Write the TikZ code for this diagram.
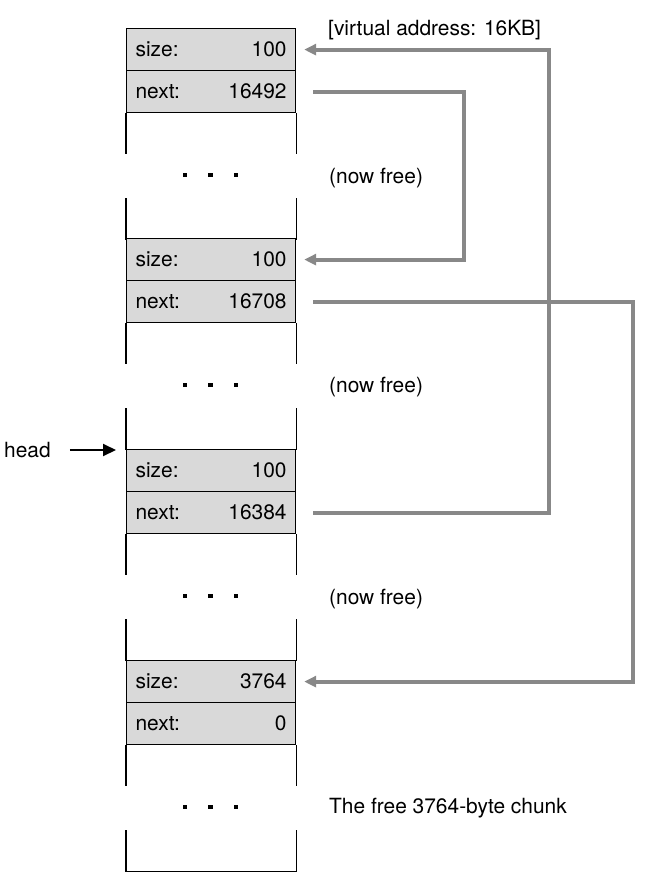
\documentclass[tikz,border=0pt]{standalone}
\usepackage{fontspec}
\setmainfont{TeX Gyre Heros}
\usetikzlibrary{arrows.meta,calc}
\definecolor{rowfill}{HTML}{D9D9D9}
\definecolor{ptrgray}{HTML}{888888}
\begin{document}
\begin{tikzpicture}[x=1bp,y=-1bp,
  every node/.style={font=\fontsize{21}{25}\selectfont},
  row/.style={draw=black, line width=1.2bp, fill=rowfill, minimum width=169bp, minimum height=42bp, text width=151bp, inner xsep=9bp, inner ysep=0pt, anchor=north west},
  side/.style={line width=1.2bp, draw=black},
  ptr/.style={draw=ptrgray, line width=4bp, -{Triangle[length=12bp,width=11bp]}},
  headptr/.style={draw=black, line width=2bp, -{Triangle[length=13bp,width=12bp]}},
  lbl/.style={anchor=west, inner sep=0pt},
  dotbox/.style={fill=black, minimum size=4.5bp, inner sep=0pt}
]
\useasboundingbox (0,0) rectangle (660,885);
\foreach \i/\T/\sv/\nv in {1/28/100/16492, 2/238/100/16708, 3/449/100/16384, 4/660/3764/0}{
  \node[row] (s\i) at (126,\T) {size:\hfill \sv};
  \node[row] (n\i) at (126,\T+42) {next:\hfill \nv};
  \draw[side] (n\i.south west) -- ++(0,41);
  \draw[side] (n\i.south east) -- ++(0,41);
  \draw[side] ($(n\i.south west)+(0,85)$) -- ++(0,42);
  \draw[side] ($(n\i.south east)+(0,85)$) -- ++(0,42);
  \node[dotbox] (da\i) at (185,\T+147) {};
  \node[dotbox] (db\i) at (210.5,\T+147) {};
  \node[dotbox] (dc\i) at (236,\T+147) {};
}
\draw[side] ($(n4.south west)+(0,126)$) -- ($(n4.south east)+(0,126)$);

\node[lbl] (va) at (328,30) {[virtual address: 16KB]};
\node[lbl] (f1) at (329,178) {(now free)};
\node[lbl] (f2) at (329,387) {(now free)};
\node[lbl] (f3) at (329,599) {(now free)};
\node[lbl] (chunk) at (329,808) {The free 3764-byte chunk};

\node[lbl] (head) at (4,450) {head};
\draw[headptr] ([xshift=19bp]head.east) -- ($(head.east -| s3.west)+(-10,0)$);

\draw[ptr] ([xshift=17bp]n3.east) -- ++(236,0) |- ([xshift=8bp]s1.east);
\draw[ptr] ([xshift=17bp]n1.east) -- ++(151,0) |- ([xshift=8bp]s2.east);
\draw[ptr] ([xshift=17bp]n2.east) -- ++(320,0) |- ([xshift=8bp]s4.east);
\end{tikzpicture}
\end{document}
